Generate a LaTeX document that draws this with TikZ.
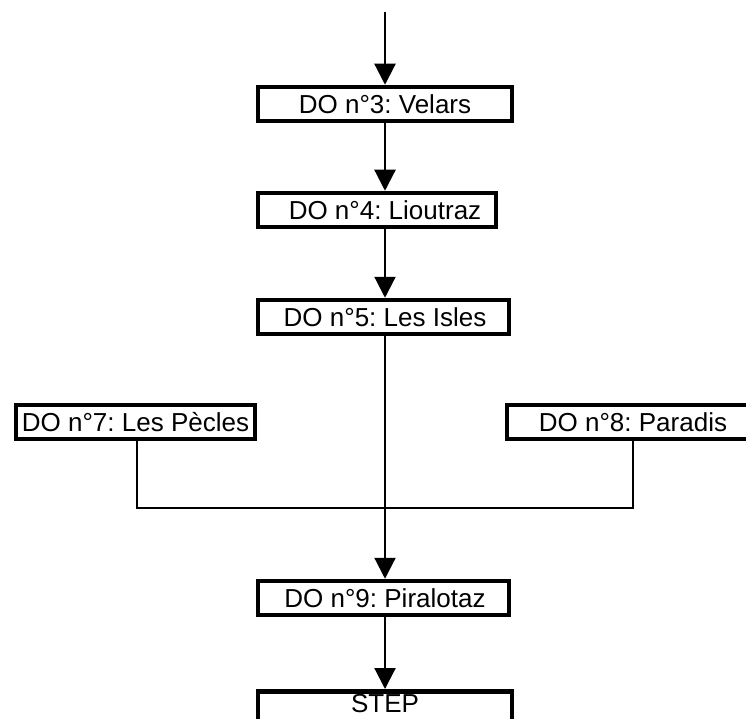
\documentclass[tikz,border=0pt]{standalone}
\usepackage{fontspec}
\setmainfont{Liberation Sans}
\usetikzlibrary{arrows.meta}
\frenchspacing
\begin{document}
\begin{tikzpicture}[x=1pt,y=-1pt,
  lbl/.style={inner sep=0pt, font=\fontsize{26}{26}\selectfont},
  box/.style={lbl, draw, line width=4.5pt, minimum height=34pt},
  conn/.style={line width=2.2pt},
  arr/.style={line width=2.2pt, -{Triangle[width=21pt,length=21pt]}}]
\useasboundingbox (0,0) rectangle (746,719);
\begin{scope}
\clip (0,0) rectangle (746,719);
\node[box, minimum width=254pt] (b3) at (385,104) {DO n°3: Velars};
\node[box, minimum width=238pt] (b4) at (377,210) {\makebox[238pt]{\hspace*{16pt}DO n°4: Lioutraz}};
\node[box, minimum width=251pt] (b5) at (383.5,317) {\makebox[251pt]{\hspace*{3pt}DO n°5: Les Isles}};
\node[box, minimum width=239pt] (b7) at (135.5,422) {DO n°7: Les Pècles};
\node[box, minimum width=252pt] (b8) at (633,422) {DO n°8: Paradis};
\node[box, minimum width=251pt] (b9) at (383.5,598) {\makebox[251pt]{\hspace*{3pt}DO n°9: Piralotaz}};
\node[box, minimum width=254pt, minimum height=62pt, anchor=north] (stepbox) at (385,689) {};
\end{scope}
\node[lbl, anchor=base] (step) at (385,712) {STEP};
\coordinate (top) at (385,12);
\coordinate (lx) at (137,508);
\coordinate (rx) at (633,508);
\draw[arr] (top) -- (b3.north -| top);
\draw[arr] (b3.south -| top) -- (b4.north -| top);
\draw[arr] (b4.south -| top) -- (b5.north -| top);
\draw[arr] (b5.south -| top) -- (b9.north -| top);
\draw[arr] (b9.south -| top) -- (stepbox.north -| top);
\draw[conn] (b7.south -| lx) -- (lx) -- (rx) -- (b8.south -| rx);
\end{tikzpicture}
\end{document}
